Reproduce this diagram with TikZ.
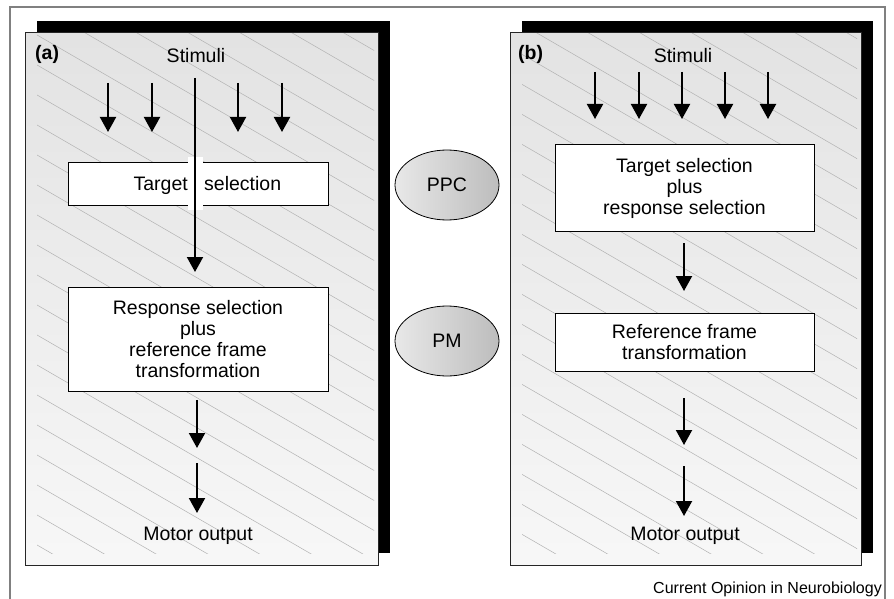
\documentclass[tikz,border=0pt]{standalone}
\usepackage{fontspec}
\setmainfont{Liberation Sans}
\usetikzlibrary{arrows.meta,shapes.geometric}
\tikzset{
  frameline/.style={draw=black!50, line width=1.2pt},
  shadowbox/.style={fill=black, draw=none, inner sep=0pt, outer sep=0pt},
  panelbox/.style={draw=black!85, line width=1pt, top color=black!11, bottom color=black!3, inner sep=0pt, outer sep=0pt},
  hatch/.style={draw=black!30, line width=0.5pt},
  procbox/.style={draw=black, line width=1pt, fill=white, inner sep=0pt, outer sep=0pt, align=center, font=\fontsize{19.5}{21}\selectfont},
  lbl/.style={inner sep=0pt, font=\fontsize{19.5}{21}\selectfont},
  arr/.style={line width=2pt, -{Triangle[width=16pt,length=15pt]}},
  region/.style={ellipse, draw=black, line width=0.8pt, left color=black!9, right color=black!26, minimum width=104pt, minimum height=70pt, inner sep=0pt, font=\fontsize{19.5}{21}\selectfont},
}
\begin{document}
\begin{tikzpicture}[x=1pt,y=-1pt]
\useasboundingbox (0,0) rectangle (894,599);
\fill[white] (0,0) rectangle (894,599);
\draw[frameline] (10,599) -- (10,7) -- (885,7) -- (885,599);

% ---------- panel (a)
\node[shadowbox, minimum width=353pt, minimum height=532pt] (sa) at (213.5,287) {};
\node[panelbox, minimum width=353pt, minimum height=532pt] (pa) at (201.5,299) {};
\begin{scope}
  \clip (37,34) rectangle (374,553);
  \foreach \k in {-24,...,8} \draw[hatch] (0,373.5+30*\k) -- ++(900,522);
\end{scope}
\node[lbl, font=\fontsize{19.5}{21}\selectfont\bfseries, anchor=base west] (laba) at (35,60) {(a)};
\node[lbl, anchor=base] (stima) at (196,63) {Stimuli};
\foreach \x/\n in {108/1,152/2,238/3,282/4}{
  \coordinate (sa\n s) at (\x,83);
  \coordinate (sa\n e) at (\x,132);
  \draw[arr] (sa\n s) -- (sa\n e);
}
\node[procbox, minimum width=260pt, minimum height=43pt] (ta) at (198,183.5) {};
\node[lbl, anchor=base east] (ta1) at (188,190) {Target};
\node[lbl, anchor=base west] (ta2) at (204,190) {selection};
\coordinate (la0) at (195,78);
\coordinate (la1) at (195,272);
\draw[white, line width=15pt] (195,157) -- (195,210);
\draw[arr] (la0) -- (la1);
\node[procbox, minimum width=260pt, minimum height=104pt] (ra) at (198,339) {Response selection\\plus\\reference frame\\transformation};
\coordinate (oa1s) at (197,400);
\coordinate (oa1e) at (197,448);
\coordinate (oa2s) at (197,463);
\coordinate (oa2e) at (197,513);
\draw[arr] (oa1s) -- (oa1e);
\draw[arr] (oa2s) -- (oa2e);
\node[lbl, anchor=base] (moa) at (198,540) {Motor output};

% ---------- areas
\node[region] (ppc) at (447,185) {PPC};
\node[region] (pm) at (447,341) {PM};

% ---------- panel (b)
\node[shadowbox, minimum width=351pt, minimum height=532pt] (sb) at (697.5,287) {};
\node[panelbox, minimum width=351pt, minimum height=532pt] (pb) at (685.5,299) {};
\begin{scope}
  \clip (522,34) rectangle (857,553);
  \foreach \k in {-40,...,8} \draw[hatch] (480,360+30*\k) -- ++(900,522);
\end{scope}
\node[lbl, font=\fontsize{19.5}{21}\selectfont\bfseries, anchor=base west] (labb) at (518,60) {(b)};
\node[lbl, anchor=base] (stimb) at (683,63) {Stimuli};
\foreach \x/\n in {595/1,639/2,682/3,725/4,768/5}{
  \coordinate (sb\n s) at (\x,72);
  \coordinate (sb\n e) at (\x,119);
  \draw[arr] (sb\n s) -- (sb\n e);
}
\node[procbox, minimum width=259pt, minimum height=86pt] (tb) at (684.5,188) {Target selection\\plus\\response selection};
\node[procbox, minimum width=259pt, minimum height=58pt] (rb) at (684.5,342) {Reference frame\\transformation};
\draw[arr] (tb.south -| 684,0) ++(0,12) coordinate (b1s) -- (684,291) coordinate (b1e);
\coordinate (ob1s) at (684,398);
\coordinate (ob1e) at (684,445);
\coordinate (ob2s) at (684,466);
\coordinate (ob2e) at (684,516);
\draw[arr] (ob1s) -- (ob1e);
\draw[arr] (ob2s) -- (ob2e);
\node[lbl, anchor=base] (mob) at (685,540) {Motor output};

\node[anchor=base east, inner sep=0pt, font=\fontsize{16}{18}\selectfont] (credit) at (882,593) {Current Opinion in Neurobiology};
\end{tikzpicture}
\end{document}
